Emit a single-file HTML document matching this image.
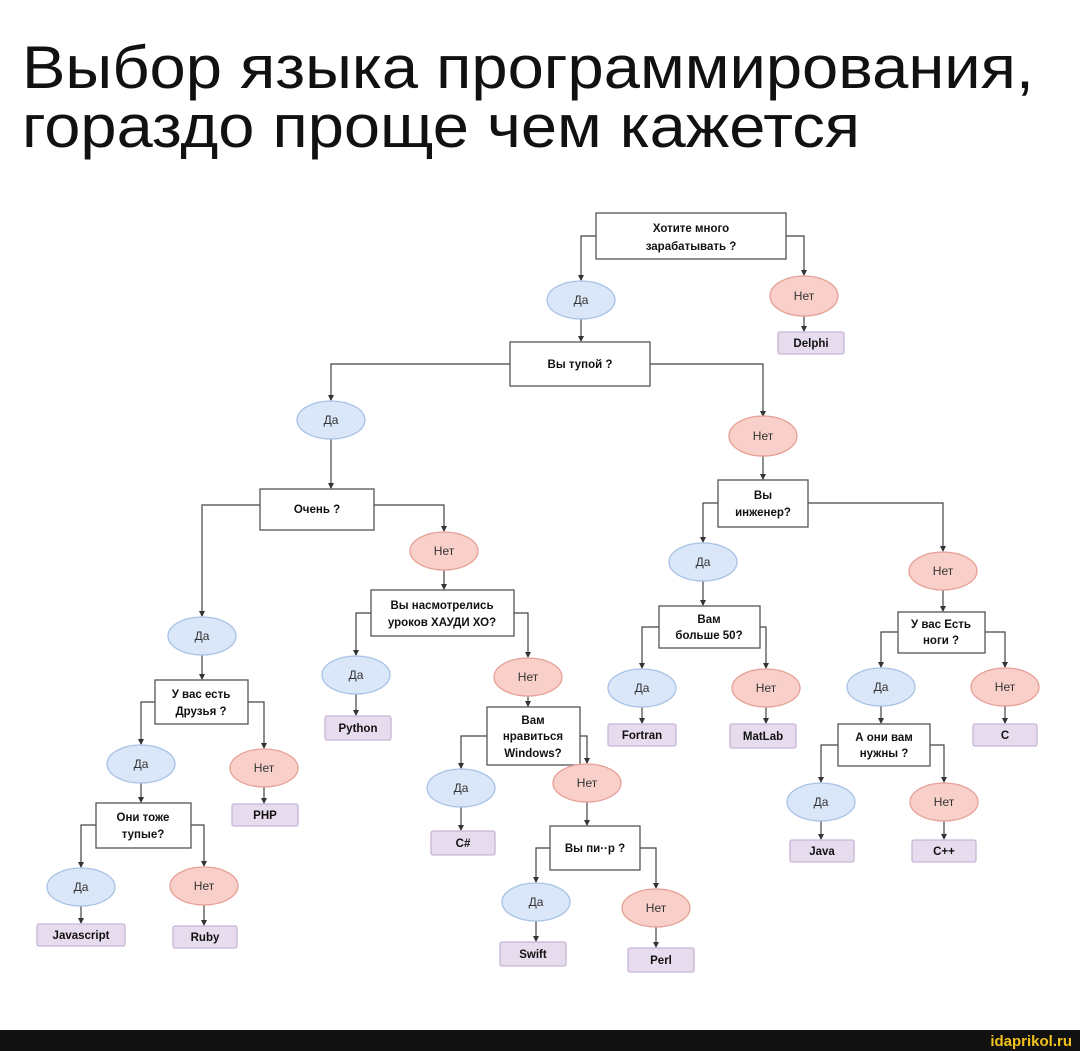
<!DOCTYPE html>
<html><head><meta charset="utf-8"><style>
html,body{margin:0;padding:0;background:#fff;width:1080px;height:1051px;overflow:hidden}
svg{display:block}
.t{font-family:"Liberation Sans","DejaVu Sans",sans-serif;}
.b{font-family:"Liberation Sans","DejaVu Sans",sans-serif;font-weight:bold;font-size:11.5px;fill:#111;text-anchor:middle}
.e{font-family:"Liberation Sans","DejaVu Sans",sans-serif;font-size:12px;fill:#333;text-anchor:middle}
rect.q{fill:#fff;stroke:#555;stroke-width:1.3}
rect.l{fill:#e6dcee;stroke:#c6b6d6;stroke-width:1.3}
ellipse.y{fill:#dae7f8;stroke:#a8c2e6;stroke-width:1.3}
ellipse.n{fill:#f8d0c9;stroke:#e6a197;stroke-width:1.3}
path{fill:none;stroke:#444;stroke-width:1.2;marker-end:url(#a)}
</style></head><body>
<svg width="1080" height="1051" viewBox="0 0 1080 1051" xmlns="http://www.w3.org/2000/svg">
<defs><marker id="a" markerWidth="6" markerHeight="6" refX="5" refY="3" orient="auto" markerUnits="userSpaceOnUse"><path d="M0,0 L6,3 L0,6 z" style="fill:#333;stroke:none;marker-end:none"/></marker></defs>
<text class="t" x="22" y="88" font-size="60" fill="#111" textLength="1012" lengthAdjust="spacingAndGlyphs">Выбор языка программирования,</text>
<text class="t" x="22" y="147" font-size="60" fill="#111" textLength="838" lengthAdjust="spacingAndGlyphs">гораздо проще чем кажется</text>

<path d="M596,236 H581 V280"/><path d="M786,236 H804 V275"/>
<path d="M581,319 V341"/><path d="M804,316 V331"/>
<path d="M510,364 H331 V400"/><path d="M650,364 H763 V416"/>
<path d="M331,439 V488"/><path d="M763,456 V479"/>
<path d="M260,505 H202 V616"/><path d="M374,505 H444 V531"/>
<path d="M444,570 V589"/>
<path d="M371,613 H356 V655"/><path d="M514,613 H528 V657"/>
<path d="M356,694 V715"/><path d="M528,696 V706"/>
<path d="M487,736 H461 V768"/><path d="M580,736 H587 V763"/>
<path d="M461,807 V830"/><path d="M587,802 V825"/>
<path d="M550,848 H536 V882"/><path d="M640,848 H656 V888"/>
<path d="M536,921 V941"/><path d="M656,927 V947"/>
<path d="M202,655 V679"/>
<path d="M155,702 H141 V744"/><path d="M248,702 H264 V748"/>
<path d="M141,783 V802"/><path d="M264,787 V803"/>
<path d="M96,825 H81 V867"/><path d="M191,825 H204 V866"/>
<path d="M81,906 V923"/><path d="M204,905 V925"/>
<path d="M718,503 H703 V542"/><path d="M808,503 H943 V551"/>
<path d="M703,581 V605"/><path d="M943,590 V611"/>
<path d="M659,627 H642 V668"/><path d="M760,627 H766 V668"/>
<path d="M642,707 V723"/><path d="M766,707 V723"/>
<path d="M898,632 H881 V667"/><path d="M985,632 H1005 V667"/>
<path d="M881,706 V723"/><path d="M1005,706 V723"/>
<path d="M838,745 H821 V782"/><path d="M930,745 H944 V782"/>
<path d="M821,821 V839"/><path d="M944,821 V839"/>

<rect class="q" x="596" y="213" width="190" height="46"/><text class="b" x="691" y="232">Хотите много</text><text class="b" x="691" y="250">зарабатывать ?</text>
<rect class="q" x="510" y="342" width="140" height="44"/><text class="b" x="580" y="368">Вы тупой ?</text>
<rect class="q" x="260" y="489" width="114" height="41"/><text class="b" x="317" y="513">Очень ?</text>
<rect class="q" x="371" y="590" width="143" height="46"/><text class="b" x="442" y="609">Вы насмотрелись</text><text class="b" x="442" y="626">уроков ХАУДИ ХО?</text>
<rect class="q" x="487" y="707" width="93" height="58"/><text class="b" x="533" y="724">Вам</text><text class="b" x="533" y="740">нравиться</text><text class="b" x="533" y="757">Windows?</text>
<rect class="q" x="550" y="826" width="90" height="44"/><text class="b" x="595" y="852">Вы пи··р ?</text>
<rect class="q" x="155" y="680" width="93" height="44"/><text class="b" x="201" y="698">У вас есть</text><text class="b" x="201" y="715">Друзья ?</text>
<rect class="q" x="96" y="803" width="95" height="45"/><text class="b" x="143" y="821">Они тоже</text><text class="b" x="143" y="838">тупые?</text>
<rect class="q" x="718" y="480" width="90" height="47"/><text class="b" x="763" y="499">Вы</text><text class="b" x="763" y="516">инженер?</text>
<rect class="q" x="659" y="606" width="101" height="42"/><text class="b" x="709" y="623">Вам</text><text class="b" x="709" y="639">больше 50?</text>
<rect class="q" x="898" y="612" width="87" height="41"/><text class="b" x="941" y="628">У вас Есть</text><text class="b" x="941" y="644">ноги ?</text>
<rect class="q" x="838" y="724" width="92" height="42"/><text class="b" x="884" y="741">А они вам</text><text class="b" x="884" y="757">нужны ?</text>

<ellipse class="y" cx="581" cy="300" rx="34" ry="19"/><text class="e" x="581" y="304">Да</text>
<ellipse class="n" cx="804" cy="296" rx="34" ry="20"/><text class="e" x="804" y="300">Нет</text>
<ellipse class="y" cx="331" cy="420" rx="34" ry="19"/><text class="e" x="331" y="424">Да</text>
<ellipse class="n" cx="763" cy="436" rx="34" ry="20"/><text class="e" x="763" y="440">Нет</text>
<ellipse class="n" cx="444" cy="551" rx="34" ry="19"/><text class="e" x="444" y="555">Нет</text>
<ellipse class="y" cx="202" cy="636" rx="34" ry="19"/><text class="e" x="202" y="640">Да</text>
<ellipse class="y" cx="356" cy="675" rx="34" ry="19"/><text class="e" x="356" y="679">Да</text>
<ellipse class="n" cx="528" cy="677" rx="34" ry="19"/><text class="e" x="528" y="681">Нет</text>
<ellipse class="y" cx="461" cy="788" rx="34" ry="19"/><text class="e" x="461" y="792">Да</text>
<ellipse class="n" cx="587" cy="783" rx="34" ry="19"/><text class="e" x="587" y="787">Нет</text>
<ellipse class="y" cx="536" cy="902" rx="34" ry="19"/><text class="e" x="536" y="906">Да</text>
<ellipse class="n" cx="656" cy="908" rx="34" ry="19"/><text class="e" x="656" y="912">Нет</text>
<ellipse class="y" cx="141" cy="764" rx="34" ry="19"/><text class="e" x="141" y="768">Да</text>
<ellipse class="n" cx="264" cy="768" rx="34" ry="19"/><text class="e" x="264" y="772">Нет</text>
<ellipse class="y" cx="81" cy="887" rx="34" ry="19"/><text class="e" x="81" y="891">Да</text>
<ellipse class="n" cx="204" cy="886" rx="34" ry="19"/><text class="e" x="204" y="890">Нет</text>
<ellipse class="y" cx="703" cy="562" rx="34" ry="19"/><text class="e" x="703" y="566">Да</text>
<ellipse class="n" cx="943" cy="571" rx="34" ry="19"/><text class="e" x="943" y="575">Нет</text>
<ellipse class="y" cx="642" cy="688" rx="34" ry="19"/><text class="e" x="642" y="692">Да</text>
<ellipse class="n" cx="766" cy="688" rx="34" ry="19"/><text class="e" x="766" y="692">Нет</text>
<ellipse class="y" cx="881" cy="687" rx="34" ry="19"/><text class="e" x="881" y="691">Да</text>
<ellipse class="n" cx="1005" cy="687" rx="34" ry="19"/><text class="e" x="1005" y="691">Нет</text>
<ellipse class="y" cx="821" cy="802" rx="34" ry="19"/><text class="e" x="821" y="806">Да</text>
<ellipse class="n" cx="944" cy="802" rx="34" ry="19"/><text class="e" x="944" y="806">Нет</text>

<rect class="l" x="778" y="332" width="66" height="22" rx="2"/><text class="b" x="811" y="347">Delphi</text>
<rect class="l" x="325" y="716" width="66" height="24" rx="2"/><text class="b" x="358" y="732">Python</text>
<rect class="l" x="431" y="831" width="64" height="24" rx="2"/><text class="b" x="463" y="847">C#</text>
<rect class="l" x="500" y="942" width="66" height="24" rx="2"/><text class="b" x="533" y="958">Swift</text>
<rect class="l" x="628" y="948" width="66" height="24" rx="2"/><text class="b" x="661" y="964">Perl</text>
<rect class="l" x="232" y="804" width="66" height="22" rx="2"/><text class="b" x="265" y="819">PHP</text>
<rect class="l" x="37" y="924" width="88" height="22" rx="2"/><text class="b" x="81" y="939">Javascript</text>
<rect class="l" x="173" y="926" width="64" height="22" rx="2"/><text class="b" x="205" y="941">Ruby</text>
<rect class="l" x="608" y="724" width="68" height="22" rx="2"/><text class="b" x="642" y="739">Fortran</text>
<rect class="l" x="730" y="724" width="66" height="24" rx="2"/><text class="b" x="763" y="740">MatLab</text>
<rect class="l" x="973" y="724" width="64" height="22" rx="2"/><text class="b" x="1005" y="739">C</text>
<rect class="l" x="790" y="840" width="64" height="22" rx="2"/><text class="b" x="822" y="855">Java</text>
<rect class="l" x="912" y="840" width="64" height="22" rx="2"/><text class="b" x="944" y="855">C++</text>

<rect x="0" y="1030" width="1080" height="21" fill="#111"/>
<text class="t" x="1072" y="1046" font-size="15" font-weight="bold" fill="#f2c21b" text-anchor="end">idaprikol.ru</text>
</svg>
</body></html>
